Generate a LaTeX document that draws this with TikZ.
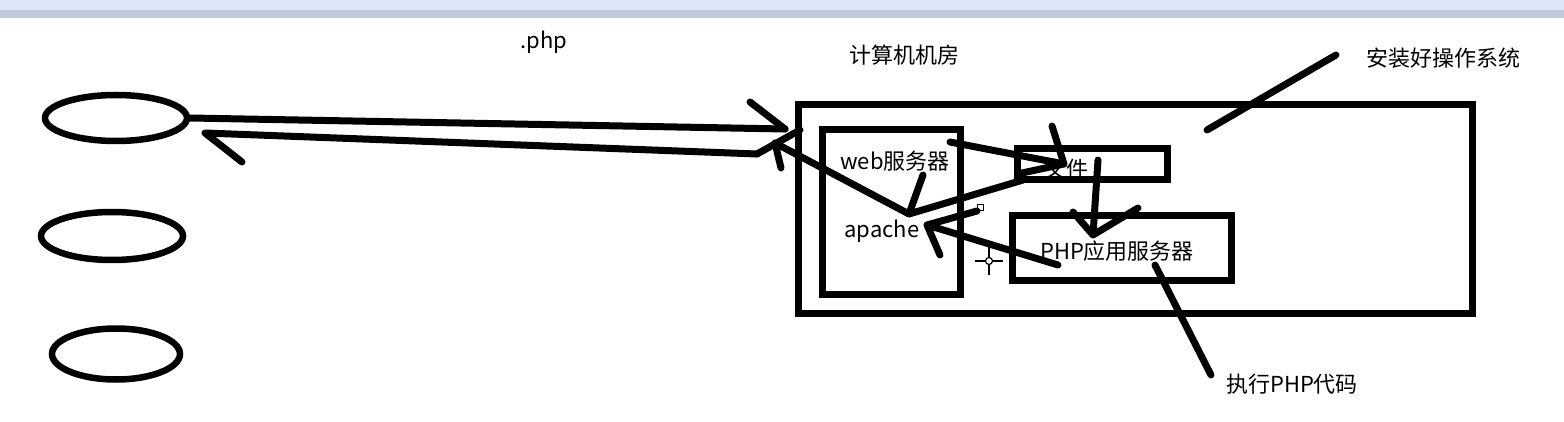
\documentclass[tikz,border=0pt]{standalone}
\usepackage{fontspec}
\setmainfont{Noto Sans CJK SC}
\usetikzlibrary{shapes.geometric}
\tikzset{
	pen/.style={line width=7pt, line cap=round, line join=round},
	box/.style={draw, line width=7pt, inner sep=0pt},
	client/.style={draw, ellipse, line width=6.5pt, inner sep=0pt},
	label/.style={inner sep=0pt, font=\fontsize{22}{26}\selectfont},
}
\begin{document}
\begin{tikzpicture}[x=1pt, y=-1pt]
	\useasboundingbox (0,0) rectangle (1564,422);
	% window strip
	\fill[fill={rgb,255:red,222;green,230;blue,245}] (0,0) rectangle (1564,10);
	\fill[fill={rgb,255:red,192;green,202;blue,219}] (0,10) rectangle (1564,18);
	% clients
	\node[client, minimum width=142pt, minimum height=46pt] (c1) at (116,118) {};
	\node[client, minimum width=142pt, minimum height=48pt] (c2) at (112,236) {};
	\node[client, minimum width=128pt, minimum height=51pt] (c3) at (116,354) {};
	% machine room
	\node[box, minimum width=674pt, minimum height=208pt] (room) at (1135,209) {};
	\node[box, minimum width=138pt, minimum height=165pt] (web) at (891,212) {};
	\node[box, minimum width=150pt, minimum height=31pt] (filebox) at (1092,164) {};
	\node[box, minimum width=219pt, minimum height=65pt] (php) at (1122,248) {};
	% labels
	\node[label] (ext) at (544,42) {.php};
	\node[label] (roomname) at (904,55) {计算机机房};
	\node[label] (os) at (1443,58) {安装好操作系统};
	\node[label] (webname) at (895,161) {web服务器};
	\node[label] (apache) at (882,231) {apache};
	\node[label] (file) at (1066,169) {文件};
	\node[label] (phpname) at (1117,251) {PHP应用服务器};
	\node[label] (exec) at (1292,384) {执行PHP代码};
	% end points
	\coordinate (req) at (785,129);
	\coordinate (bend) at (757,154);
	\coordinate (resp) at (205,133);
	\coordinate (back) at (775,143);
	\coordinate (ap) at (909,214);
	\coordinate (ap2) at (927,225);
	\coordinate (fin) at (1064,164);
	\coordinate (pin) at (1093,235);
	% request and response
	\draw[pen] (c1.east) -- (req);
	\draw[pen] (750,102) -- (req) (800,130) -- (bend);
	\draw[pen] (bend) -- (resp) -- (242,162);
	\draw[pen] (ap) -- (back) -- (781,168);
	% inside the room
	\draw[pen] (950,142) -- (fin) (1052,126) -- (fin) (1022,173) -- (fin);
	\draw[pen] (1098,160) -- (pin) (1073,212) -- (pin) -- (1138,208);
	\draw[pen] (1023,180) -- (ap) -- (923,175);
	\draw[pen] (1058,265) -- (ap2) -- (940,255) (ap2) -- (977,211);
	% pointers
	\draw[pen] (1207,130) -- (1336,55);
	\draw[pen] (1155,265) -- (1211,375);
	% cursor
	\draw[line width=1pt] (977,205) rectangle (983,211);
	\draw[line width=1.2pt] (975,261) -- (1003,261) (989,247) -- (989,275);
	\draw[line width=1.2pt, fill=white] (989,261) circle (3.5);
\end{tikzpicture}
\end{document}
